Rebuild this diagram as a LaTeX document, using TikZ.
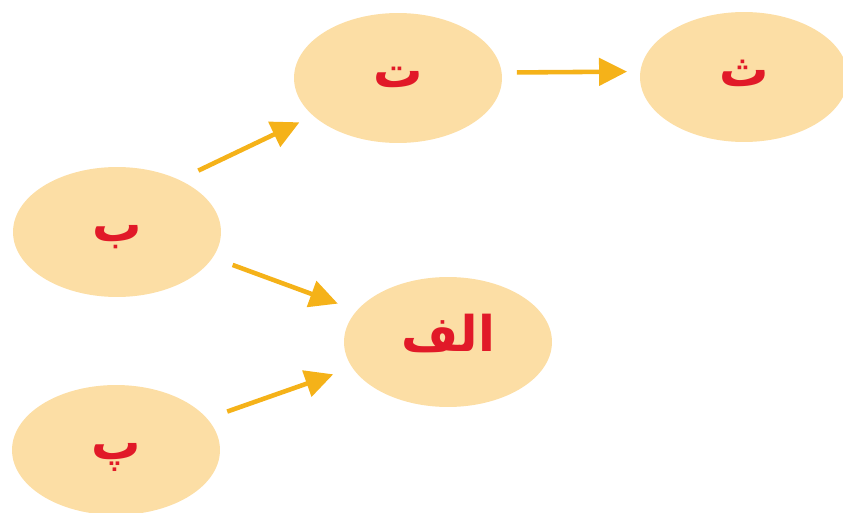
\documentclass[tikz,border=0pt]{standalone}
\usepackage{fontspec}
\newfontfamily\arabicfont[Script=Arabic]{DejaVu Sans}
\TeXXeTstate=1
\usetikzlibrary{arrows.meta, shapes.geometric}
\definecolor{nodefill}{RGB}{252, 222, 165}
\definecolor{letterred}{RGB}{225, 25, 40}
\definecolor{arrowgold}{RGB}{245, 178, 25}

\begin{document}
\begin{tikzpicture}[
  x=0.02cm, y=-0.02cm,
  arrow/.style={-{Triangle[length=0.56cm, width=0.54cm]}, line width=2.6pt, arrowgold},
  letternode/.style={ellipse, fill=nodefill, minimum width=4.16cm, minimum height=2.6cm, inner sep=0pt, text height=0.5cm, text depth=0.12cm, font=\fontsize{28}{32}\selectfont\arabicfont\bfseries, text=letterred}
]
  \useasboundingbox (0, 0) rectangle (843, 513);

  % Letters
  \node[letternode] (b) at (117, 232) {\beginR ب\endR};
  \node[letternode] (p) at (116, 450) {\beginR پ\endR};
  \node[letternode] (t) at (398, 78) {\beginR ت\endR};
  \node[letternode] (th) at (744, 77) {\beginR ث\endR};
  \node[letternode] (alef) at (448, 342) {\beginR الف\endR};

  \draw[arrow, shorten <=0.42cm, shorten >=0.3cm] (b.40) -- (t.204);
  \draw[arrow, shorten <=0.3cm, shorten >=0.26cm] (t.3) -- (th.177);
  \draw[arrow, shorten <=0.42cm, shorten >=0.4cm] (b.-15) -- (alef.161);
  \draw[arrow, shorten <=0.42cm, shorten >=0.4cm] (p.19) -- (alef.195);
\end{tikzpicture}
\end{document}
